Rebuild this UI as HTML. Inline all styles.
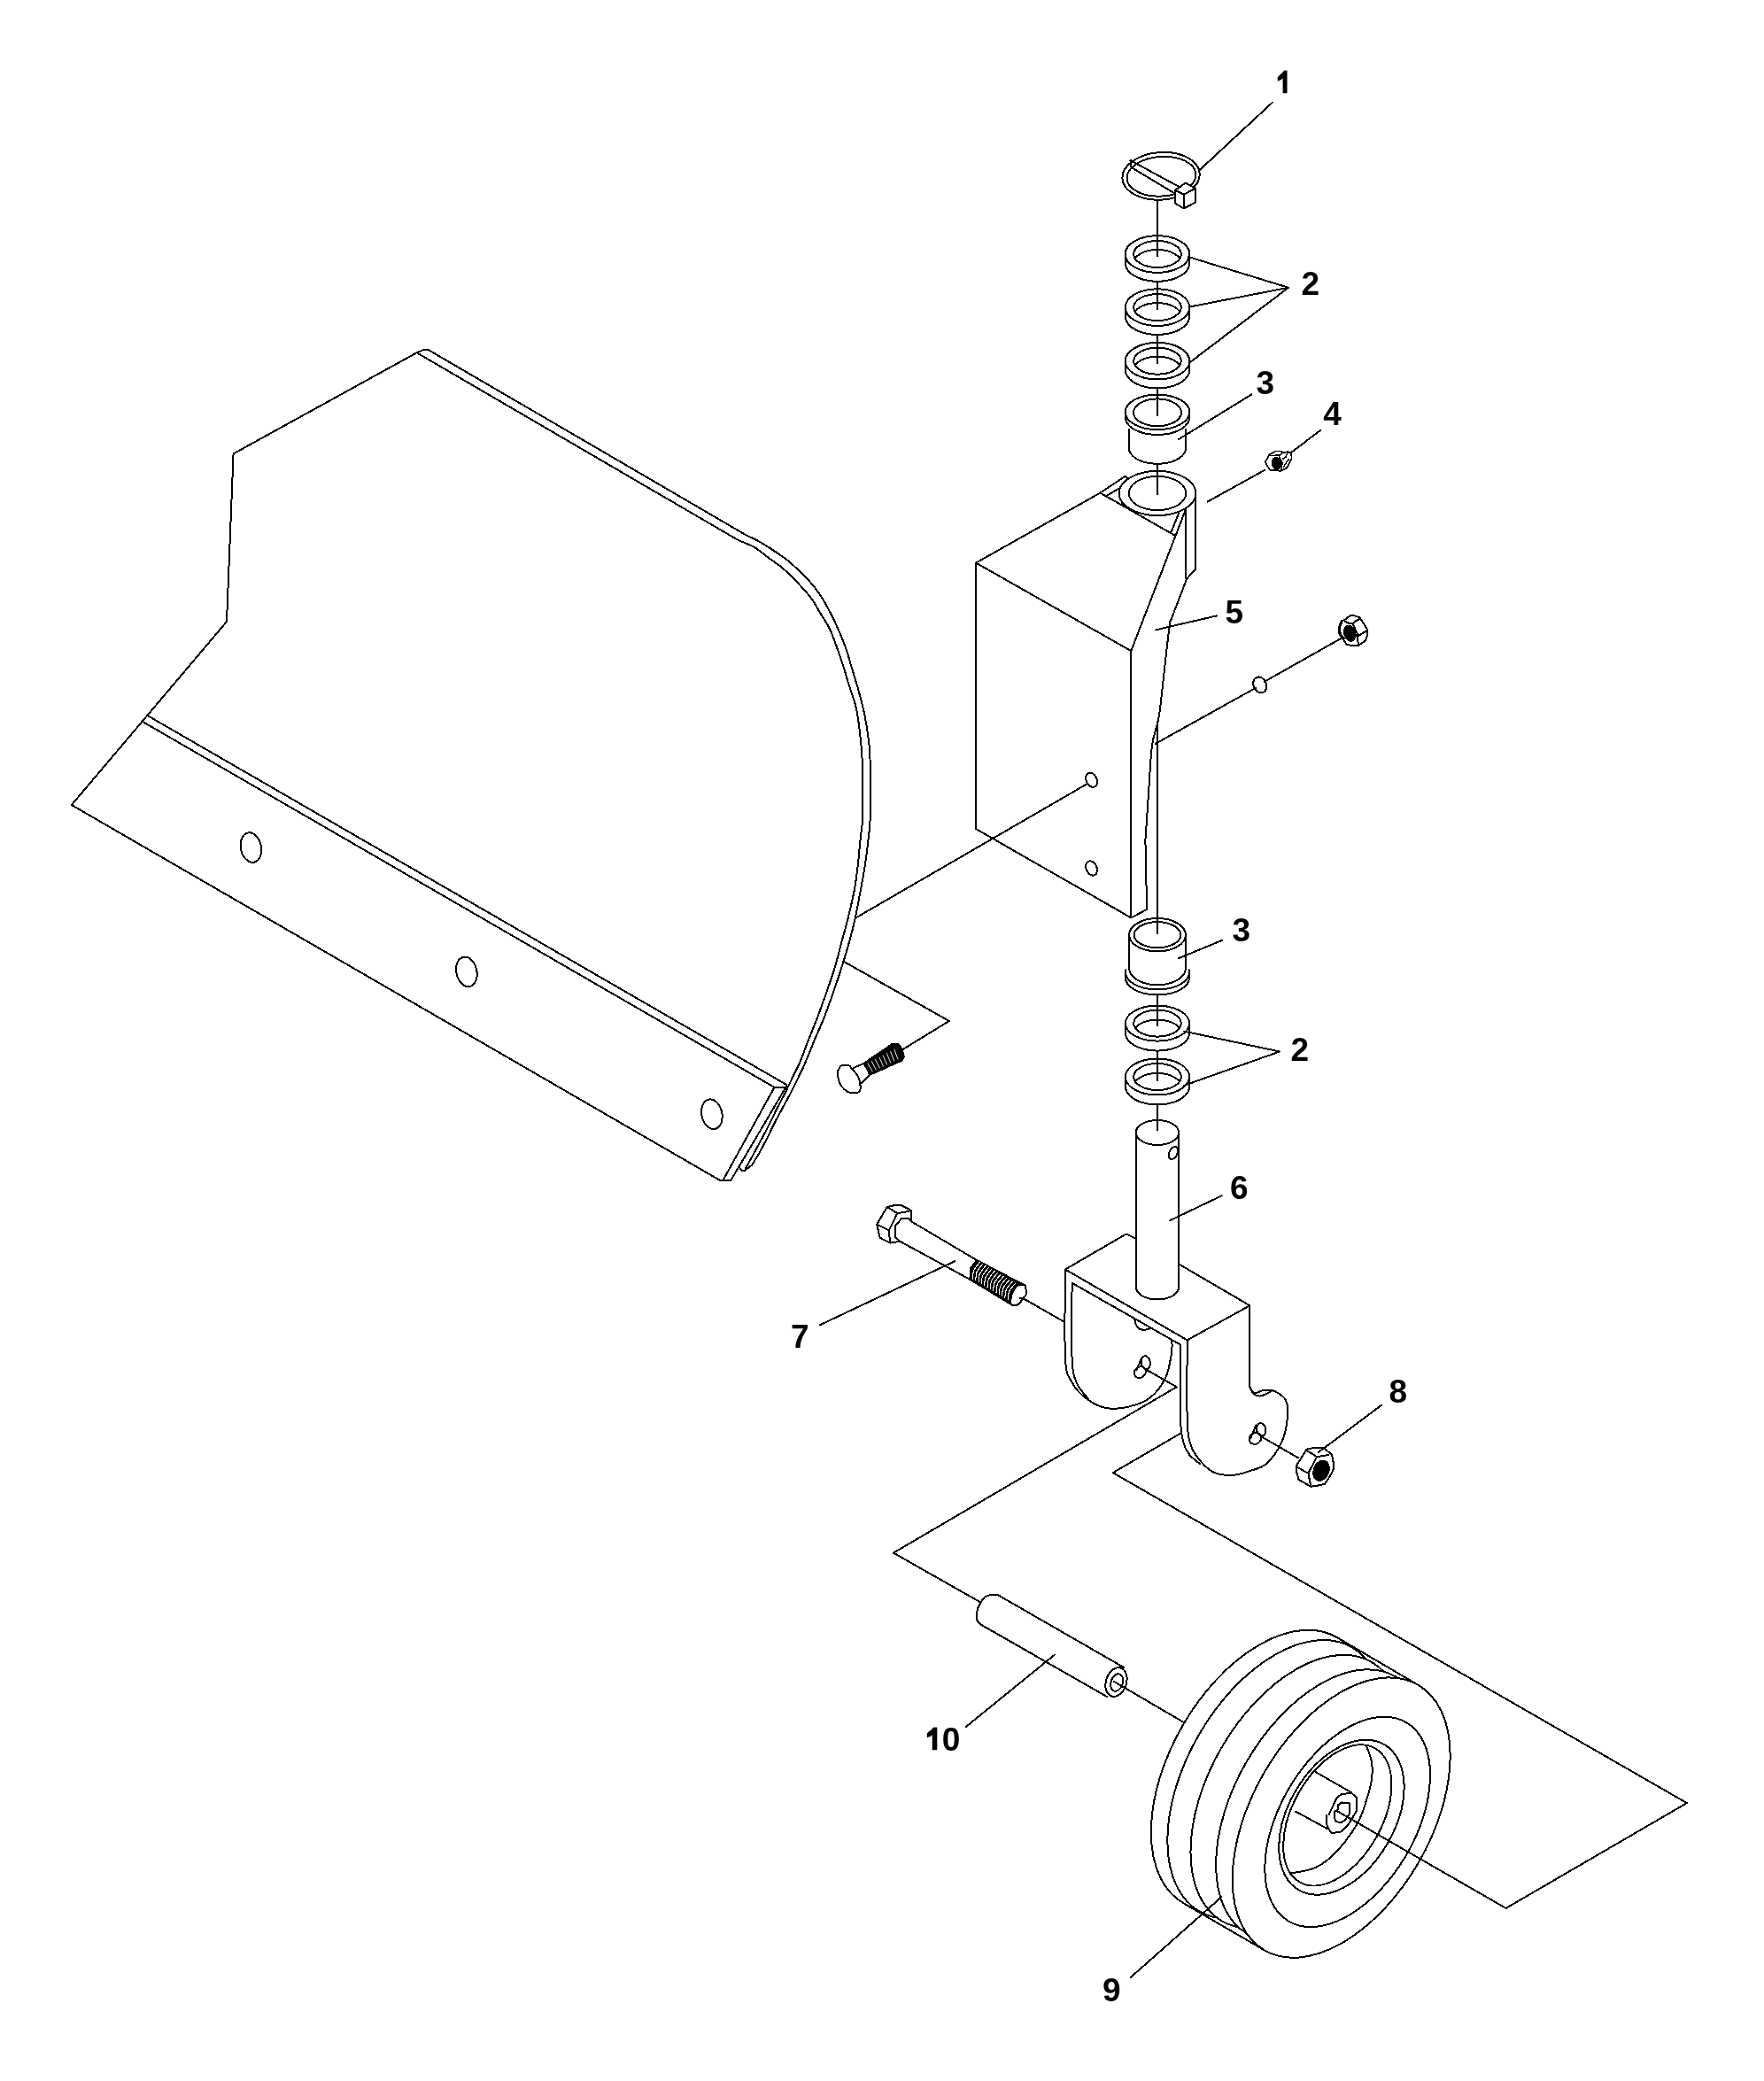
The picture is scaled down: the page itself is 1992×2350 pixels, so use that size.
<!DOCTYPE html>
<html><head><meta charset="utf-8"><style>
html,body{margin:0;padding:0;background:#fff;}
svg{display:block;will-change:transform;}
text{font-family:"Liberation Sans",sans-serif;font-weight:bold;fill:#000;stroke:none;text-anchor:middle;}
</style></head><body>
<svg width="1992" height="2350" viewBox="0 0 1992 2350">
<rect width="1992" height="2350" fill="#fff"/>
<g fill="none" stroke="#000" stroke-width="2" stroke-linejoin="round" stroke-linecap="round" shape-rendering="crispEdges">
<path d="M483.1 394.7 L479.1 394.7 L470.6 398.3 L263.6 512.4 L256 702 L80.8 909 L814 1333.5 L825.4 1332.8"/>
<path d="M483.1 394.7 L842 604"/>
<path d="M842 604 C844.8 605.4 852.8 608.9 859 612.5 C865.2 616.1 873.7 621.7 879.4 625.6 C885.1 629.5 887.3 630.8 893 635.8 C898.7 640.8 907.9 649.6 913.4 655.6 C918.9 661.6 922.3 666.3 925.9 671.5 C929.5 676.7 931.9 681.2 934.9 686.8 C937.9 692.4 940.6 697.3 944 704.9 C947.4 712.5 952.5 724.4 955.3 732.1 C958.1 739.9 959.1 745.1 961 751.4 C962.9 757.7 964.5 762.4 966.7 770 C968.9 777.6 972.1 788.7 974.1 797 C976.1 805.3 977.3 811.6 978.6 819.7 C979.9 827.8 981.3 837.3 982 845.8 C982.7 854.3 982.5 857.5 982.6 870.7 C982.7 883.9 983 912.1 982.6 925 C982.2 937.9 981.5 938.8 980.5 948 C979.5 957.2 977.9 970.4 976.4 980 C974.9 989.6 973.6 996 971.8 1005.5 C970 1015 967.7 1027.8 965.7 1037.1 C963.7 1046.4 961.8 1053.4 959.6 1061.6 C957.4 1069.8 954.3 1079.7 952.4 1086.1 C950.5 1092.5 950.2 1093.4 948 1100 C945.8 1106.6 942.3 1117 939.3 1125.5 C936.3 1134 933.3 1142.5 929.9 1151 C926.5 1159.5 922.3 1168.3 918.9 1176.5 C915.5 1184.7 912.3 1193.2 909.4 1200 C906.5 1206.8 904.2 1211.2 901.4 1217 C898.6 1222.8 895.2 1229.6 892.4 1235.1 C889.6 1240.6 887.2 1244.6 884.4 1249.9 C881.6 1255.2 878.7 1260.4 875.4 1266.9 C872.1 1273.4 867.4 1283.2 864.4 1289 C861.4 1294.8 860 1297.5 857.6 1301.7 C855.2 1305.9 851.6 1311.8 849.9 1314.4 C848.2 1317 848.2 1316.4 847.2 1317.2 C846.2 1318 844.8 1319 844 1319.4 C843.2 1319.9 843.2 1319.4 842.7 1319.9 C842.2 1320.4 841.9 1321.8 841.3 1322.2 C840.7 1322.6 839.8 1322.4 839 1322.2 C838.2 1322 837.5 1321.6 836.8 1320.8 C836 1320 834.9 1318.1 834.5 1317.6"/>
<path d="M470.6 398.3 L834 610.2"/>
<path d="M834 610.2 C837 611.5 846.5 614.9 852.2 618.2 C857.9 621.5 862.5 626 868 630.1 C873.5 634.2 879 637.3 885 642.6 C891 647.9 899 656.1 904.3 661.8 C909.6 667.5 913 671.3 916.8 676.6 C920.6 681.9 923.6 687.9 927 693.6 C930.4 699.3 933.8 703.2 937.2 710.6 C940.6 718 944.8 730.4 947.4 737.8 C950 745.2 951.4 749.4 953.1 754.8 C954.8 760.2 955.4 763 957.6 770 C959.8 777 964.1 788.7 966.2 797 C968.3 805.3 969 811.2 970.1 819.7 C971.2 828.2 972.3 839.5 973 848 C973.7 856.5 973.9 858.4 974.1 870.7 C974.3 883 974.5 909.7 974.1 922 C973.8 934.3 973 934.7 972 944.4 C971 954.1 969.6 969.8 968.4 980 C967.2 990.2 966.5 996 964.7 1005.5 C962.9 1015 960 1027.4 957.6 1037.1 C955.2 1046.8 952.6 1055.4 950.4 1063.7 C948.2 1072 946 1081 944.3 1087.1 C942.6 1093.1 942.5 1093.6 940.4 1100 C938.3 1106.4 934.6 1117 931.6 1125.5 C928.6 1134 925.5 1142.5 922.3 1151 C919 1159.5 915.3 1168.3 912.1 1176.5 C908.9 1184.7 906.2 1192.8 903.1 1200 C900 1207.2 896.2 1214.1 893.5 1219.8 C890.8 1225.5 889.5 1228.5 886.7 1234 C884 1239.5 880 1246.7 877 1252.7 C874 1258.7 872.5 1262.1 868.5 1270 C864.5 1277.9 857.2 1291.7 852.7 1300 C848.2 1308.3 843.5 1316.7 841.7 1320"/>
<path d="M166.5 808 L888.4 1225.1 L887.4 1227.9 L874.5 1227.9 L160.8 814.8"/>
<path d="M874.5 1227.9 L816.3 1333.1"/>
<path d="M887.4 1227.9 L825.4 1332.8"/>
<ellipse cx="283.4" cy="957.1" rx="11.5" ry="17" transform="rotate(-12 283.4 957.1)"/>
<ellipse cx="526.9" cy="1097.4" rx="11.5" ry="17" transform="rotate(-12 526.9 1097.4)"/>
<ellipse cx="803.9" cy="1258.2" rx="11.5" ry="17" transform="rotate(-12 803.9 1258.2)"/>
<path d="M966.2 1036.6 L1228 885"/>
<path d="M952.4 1085.6 L1071.8 1153 L1018.8 1185.5"/>
<path d="M950.3 1203.3 C952.1 1202.7 956.4 1202.7 958.4 1203.3 C960.4 1203.9 960.4 1205 962.2 1207.1 C964 1209.1 967.5 1212.9 969 1215.6 C970.5 1218.3 970.8 1220.9 971.2 1223.3 C971.6 1225.7 972 1228.4 971.6 1230.1 C971.2 1231.8 970.3 1232.8 969 1233.5 C967.7 1234.2 965.9 1234.5 963.9 1234.4 C961.9 1234.3 959.4 1234 957.1 1232.7 C954.8 1231.4 952 1229 950.3 1226.7 C948.6 1224.4 947.6 1221.7 946.9 1219 C946.2 1216.3 946 1212.5 946.1 1210.5 C946.2 1208.5 946.7 1208.3 947.4 1207.1 C948.1 1205.9 948.5 1203.9 950.3 1203.3Z"/>
<path d="M963.1 1206.3 L975.2 1201"/>
<path d="M972.4 1223.3 L981.9 1214"/>
<path d="M975.2 1201 L1007.3 1179.1 L1014 1179.1 L1016.8 1181.5 L1018.8 1185.1 L1020.8 1193 L1018.8 1197.4 L981.9 1214 L979.9 1208.1Z" fill="#000"/>
<path d="M980.1 1200.9 L985.1 1210" stroke-width="0.9" stroke="#fff"/>
<path d="M984.4 1198.6 L989.2 1208" stroke-width="0.9" stroke="#fff"/>
<path d="M988.6 1196.4 L993.3 1206" stroke-width="0.9" stroke="#fff"/>
<path d="M992.9 1194.1 L997.4 1204" stroke-width="0.9" stroke="#fff"/>
<path d="M997.1 1191.9 L1001.6 1202" stroke-width="0.9" stroke="#fff"/>
<path d="M1001.4 1189.6 L1005.7 1200" stroke-width="0.9" stroke="#fff"/>
<path d="M1005.6 1187.4 L1009.8 1198" stroke-width="0.9" stroke="#fff"/>
<path d="M1009.9 1185.1 L1013.9 1196" stroke-width="0.9" stroke="#fff"/>
<path d="M1270.5 537.9 L1242.4 556.6 L1102.1 635.6 L1102.1 936.1 L1277.3 1036.4 L1295.1 1027"/>
<path d="M1102.1 635.6 L1277.3 735.1"/>
<path d="M1277.3 735.1 L1277.3 1036.4"/>
<path d="M1277.3 735.1 L1339.3 574.4"/>
<path d="M1242.4 556.6 L1327.4 605"/>
<path d="M1250.9 559.1 L1265.4 550.6 L1267.1 569.3"/>
<path d="M1270.5 537.9 L1273.9 540.4"/>
<path d="M1322.3 601.6 L1331.7 577.8"/>
<ellipse cx="1307" cy="557" rx="43.4" ry="25.1" fill="#fff"/>
<ellipse cx="1307" cy="557" rx="32.3" ry="19.1"/>
<path d="M1339.3 574.4 L1339.3 653.5"/>
<path d="M1350.4 554 C1350.4 568.7 1350.4 627.7 1350.4 642.4"/>
<path d="M1350.4 554 L1350.4 642.4 L1340.2 653.5 L1322.3 700.3"/>
<path d="M1322.3 700.3 C1322 701.4 1321.9 697.4 1320.6 707 C1319.3 716.6 1316.7 741.1 1314.7 758.1 C1312.7 775.1 1311 795.3 1308.7 809.1 C1306.4 822.9 1302.9 828.1 1301.1 840.8 C1299.3 853.4 1298.8 869.1 1297.7 885 C1296.6 900.9 1295 925.5 1294.3 936 C1293.6 946.5 1293.6 946 1293.4 948"/>
<path d="M1293.4 948 L1295.1 1027"/>
<ellipse cx="1232.6" cy="880.8" rx="6" ry="8.5" transform="rotate(-25 1232.6 880.8)"/>
<ellipse cx="1232.6" cy="980.5" rx="6" ry="8.5" transform="rotate(-25 1232.6 980.5)"/>
<path d="M1307.1 225.6 L1307.1 289"/>
<path d="M1307.1 318 L1307.1 349.6"/>
<path d="M1307.1 377.4 L1307.1 409.8"/>
<path d="M1307.1 438.5 L1307.1 469.3"/>
<path d="M1307.1 523.8 L1307.1 558.6"/>
<path d="M1307.1 815 L1307.1 1054.2"/>
<path d="M1307.1 1123.7 L1307.1 1157.8"/>
<path d="M1307.1 1187.5 L1307.1 1219.8"/>
<path d="M1307.1 1247 L1307.1 1276"/>
<ellipse cx="1311.1" cy="198.8" rx="43.7" ry="26.8" transform="rotate(-4 1311.1 198.8)" fill="#fff"/>
<ellipse cx="1311.5" cy="199.2" rx="39" ry="22.3" transform="rotate(-4 1311.5 199.2)"/>
<path d="M1276.4 181 L1331 210.7"/>
<path d="M1277.4 188.9 L1327 218.7"/>
<path d="M1276.4 181 L1277.4 188.9"/>
<path d="M1327 214.7 L1338.9 206.7 L1349.8 212.7 L1349.8 228.6 L1336.9 235.5 L1327 229.6 L1327 214.7" fill="#fff"/>
<path d="M1327 214.7 L1336.9 219.6 L1349.8 212.7"/>
<path d="M1336.9 219.6 L1336.9 235.5"/>
<ellipse cx="1307" cy="287" rx="36.3" ry="20.8"/>
<path d="M1343.3 297 L1343 299.7 L1342.1 302.4 L1340.5 305 L1338.4 307.4 L1335.8 309.7 L1332.7 311.7 L1329.1 313.5 L1325.2 315 L1320.9 316.2 L1316.4 317.1 L1311.7 317.6 L1307 317.8 L1302.3 317.6 L1297.6 317.1 L1293.1 316.2 L1288.8 315 L1284.9 313.5 L1281.3 311.7 L1278.2 309.7 L1275.6 307.4 L1273.5 305 L1271.9 302.4 L1271 299.7 L1270.7 297"/>
<path d="M1270.7 287 L1270.7 297"/>
<path d="M1343.3 287 L1343.3 297"/>
<ellipse cx="1307" cy="287" rx="26.8" ry="15"/>
<path d="M1281.7 292 L1282.8 290.6 L1284.1 289.2 L1285.6 288 L1287.4 286.8 L1289.4 285.7 L1291.5 284.8 L1293.8 283.9 L1296.3 283.2 L1298.9 282.7 L1301.5 282.3 L1304.3 282.1 L1307 282 L1309.7 282.1 L1312.5 282.3 L1315.1 282.7 L1317.7 283.2 L1320.2 283.9 L1322.5 284.8 L1324.6 285.7 L1326.6 286.8 L1328.4 288 L1329.9 289.2 L1331.2 290.6 L1332.3 292"/>
<ellipse cx="1307" cy="347.1" rx="36.3" ry="20.8"/>
<path d="M1343.3 357.1 L1343 359.8 L1342.1 362.5 L1340.5 365.1 L1338.4 367.5 L1335.8 369.8 L1332.7 371.8 L1329.1 373.6 L1325.2 375.1 L1320.9 376.3 L1316.4 377.2 L1311.7 377.7 L1307 377.9 L1302.3 377.7 L1297.6 377.2 L1293.1 376.3 L1288.8 375.1 L1284.9 373.6 L1281.3 371.8 L1278.2 369.8 L1275.6 367.5 L1273.5 365.1 L1271.9 362.5 L1271 359.8 L1270.7 357.1"/>
<path d="M1270.7 347.1 L1270.7 357.1"/>
<path d="M1343.3 347.1 L1343.3 357.1"/>
<ellipse cx="1307" cy="347.1" rx="26.8" ry="15"/>
<path d="M1281.7 352.1 L1282.8 350.7 L1284.1 349.3 L1285.6 348.1 L1287.4 346.9 L1289.4 345.8 L1291.5 344.9 L1293.8 344 L1296.3 343.3 L1298.9 342.8 L1301.5 342.4 L1304.3 342.2 L1307 342.1 L1309.7 342.2 L1312.5 342.4 L1315.1 342.8 L1317.7 343.3 L1320.2 344 L1322.5 344.9 L1324.6 345.8 L1326.6 346.9 L1328.4 348.1 L1329.9 349.3 L1331.2 350.7 L1332.3 352.1"/>
<ellipse cx="1307" cy="407.7" rx="36.3" ry="20.8"/>
<path d="M1343.3 417.7 L1343 420.4 L1342.1 423.1 L1340.5 425.7 L1338.4 428.1 L1335.8 430.4 L1332.7 432.4 L1329.1 434.2 L1325.2 435.7 L1320.9 436.9 L1316.4 437.8 L1311.7 438.3 L1307 438.5 L1302.3 438.3 L1297.6 437.8 L1293.1 436.9 L1288.8 435.7 L1284.9 434.2 L1281.3 432.4 L1278.2 430.4 L1275.6 428.1 L1273.5 425.7 L1271.9 423.1 L1271 420.4 L1270.7 417.7"/>
<path d="M1270.7 407.7 L1270.7 417.7"/>
<path d="M1343.3 407.7 L1343.3 417.7"/>
<ellipse cx="1307" cy="407.7" rx="26.8" ry="15"/>
<path d="M1281.7 412.7 L1282.8 411.3 L1284.1 409.9 L1285.6 408.7 L1287.4 407.5 L1289.4 406.4 L1291.5 405.5 L1293.8 404.6 L1296.3 403.9 L1298.9 403.4 L1301.5 403 L1304.3 402.8 L1307 402.7 L1309.7 402.8 L1312.5 403 L1315.1 403.4 L1317.7 403.9 L1320.2 404.6 L1322.5 405.5 L1324.6 406.4 L1326.6 407.5 L1328.4 408.7 L1329.9 409.9 L1331.2 411.3 L1332.3 412.7"/>
<ellipse cx="1307" cy="1155.6" rx="36.1" ry="20"/>
<path d="M1343.1 1166.6 L1342.8 1169.2 L1341.9 1171.8 L1340.4 1174.3 L1338.3 1176.6 L1335.6 1178.8 L1332.5 1180.7 L1329 1182.5 L1325 1183.9 L1320.8 1185.1 L1316.3 1185.9 L1311.7 1186.4 L1307 1186.6 L1302.3 1186.4 L1297.7 1185.9 L1293.2 1185.1 L1289 1183.9 L1285 1182.5 L1281.5 1180.7 L1278.4 1178.8 L1275.7 1176.6 L1273.6 1174.3 L1272.1 1171.8 L1271.2 1169.2 L1270.9 1166.6"/>
<path d="M1270.9 1155.6 L1270.9 1166.6"/>
<path d="M1343.1 1155.6 L1343.1 1166.6"/>
<ellipse cx="1307" cy="1155.6" rx="26.8" ry="15"/>
<path d="M1282.1 1161.1 L1283.2 1159.7 L1284.5 1158.4 L1286.1 1157.2 L1287.8 1156.1 L1289.8 1155.1 L1291.9 1154.2 L1294.2 1153.4 L1296.6 1152.8 L1299.1 1152.3 L1301.7 1151.9 L1304.3 1151.7 L1307 1151.6 L1309.7 1151.7 L1312.3 1151.9 L1314.9 1152.3 L1317.4 1152.8 L1319.8 1153.4 L1322.1 1154.2 L1324.2 1155.1 L1326.2 1156.1 L1327.9 1157.2 L1329.5 1158.4 L1330.8 1159.7 L1331.9 1161.1"/>
<ellipse cx="1307" cy="1216" rx="36.1" ry="20.5"/>
<path d="M1343.1 1227 L1342.8 1229.7 L1341.9 1232.3 L1340.4 1234.8 L1338.3 1237.2 L1335.6 1239.5 L1332.5 1241.5 L1329 1243.3 L1325 1244.8 L1320.8 1245.9 L1316.3 1246.8 L1311.7 1247.3 L1307 1247.5 L1302.3 1247.3 L1297.7 1246.8 L1293.2 1245.9 L1289 1244.8 L1285 1243.3 L1281.5 1241.5 L1278.4 1239.5 L1275.7 1237.2 L1273.6 1234.8 L1272.1 1232.3 L1271.2 1229.7 L1270.9 1227"/>
<path d="M1270.9 1216 L1270.9 1227"/>
<path d="M1343.1 1216 L1343.1 1227"/>
<ellipse cx="1307" cy="1216" rx="26.8" ry="15"/>
<path d="M1282.1 1221.5 L1283.2 1220.1 L1284.5 1218.8 L1286.1 1217.6 L1287.8 1216.5 L1289.8 1215.5 L1291.9 1214.6 L1294.2 1213.8 L1296.6 1213.2 L1299.1 1212.7 L1301.7 1212.3 L1304.3 1212.1 L1307 1212 L1309.7 1212.1 L1312.3 1212.3 L1314.9 1212.7 L1317.4 1213.2 L1319.8 1213.8 L1322.1 1214.6 L1324.2 1215.5 L1326.2 1216.5 L1327.9 1217.6 L1329.5 1218.8 L1330.8 1220.1 L1331.9 1221.5"/>
<ellipse cx="1307" cy="465.4" rx="36.3" ry="19.8"/>
<path d="M1343.3 471.2 L1343 473.8 L1342.1 476.3 L1340.5 478.8 L1338.4 481.1 L1335.8 483.3 L1332.7 485.2 L1329.1 486.9 L1325.2 488.3 L1320.9 489.5 L1316.4 490.3 L1311.7 490.8 L1307 491 L1302.3 490.8 L1297.6 490.3 L1293.1 489.5 L1288.8 488.3 L1284.9 486.9 L1281.3 485.2 L1278.2 483.3 L1275.6 481.1 L1273.5 478.8 L1271.9 476.3 L1271 473.8 L1270.7 471.2"/>
<path d="M1270.7 465.4 L1270.7 471.2"/>
<path d="M1343.3 465.4 L1343.3 471.2"/>
<ellipse cx="1307" cy="465.8" rx="27" ry="15.4"/>
<path d="M1274.8 485 L1274.8 505.8"/>
<path d="M1339.2 485 L1339.2 505.8"/>
<path d="M1339.2 505.8 L1338.9 508.1 L1338.1 510.5 L1336.7 512.7 L1334.9 514.8 L1332.5 516.8 L1329.8 518.5 L1326.6 520.1 L1323.1 521.4 L1319.3 522.4 L1315.3 523.2 L1311.2 523.6 L1307 523.8 L1302.8 523.6 L1298.7 523.2 L1294.7 522.4 L1290.9 521.4 L1287.4 520.1 L1284.2 518.5 L1281.5 516.8 L1279.1 514.8 L1277.3 512.7 L1275.9 510.5 L1275.1 508.1 L1274.8 505.8"/>
<ellipse cx="1307" cy="1055.7" rx="31.9" ry="18.7"/>
<ellipse cx="1307" cy="1055.7" rx="26.4" ry="14.5"/>
<path d="M1275.1 1055.7 L1275.1 1093.5"/>
<path d="M1338.9 1055.7 L1338.9 1093.5"/>
<path d="M1338.9 1093.5 L1338.6 1095.9 L1337.8 1098.3 L1336.5 1100.7 L1334.6 1102.8 L1332.3 1104.9 L1329.6 1106.7 L1326.4 1108.3 L1323 1109.7 L1319.2 1110.8 L1315.3 1111.6 L1311.2 1112 L1307 1112.2 L1302.8 1112 L1298.7 1111.6 L1294.8 1110.8 L1291 1109.7 L1287.6 1108.3 L1284.4 1106.7 L1281.7 1104.9 L1279.4 1102.8 L1277.5 1100.7 L1276.2 1098.3 L1275.4 1095.9 L1275.1 1093.5"/>
<path d="M1342.7 1095.3 L1343.1 1098.1 L1342.7 1100.8 L1341.6 1103.5 L1339.8 1106.1 L1337.3 1108.6 L1334.2 1110.8 L1330.6 1112.8 L1326.5 1114.4 L1322 1115.7 L1317.2 1116.7 L1312.1 1117.3 L1307 1117.5 L1301.9 1117.3 L1296.8 1116.7 L1292 1115.7 L1287.5 1114.4 L1283.4 1112.8 L1279.8 1110.8 L1276.7 1108.6 L1274.2 1106.1 L1272.4 1103.5 L1271.3 1100.8 L1270.9 1098.1 L1271.3 1095.3"/>
<path d="M1343.1 1104 L1342.8 1106.5 L1341.9 1109 L1340.4 1111.5 L1338.3 1113.8 L1335.6 1115.9 L1332.5 1117.8 L1329 1119.5 L1325 1120.9 L1320.8 1122 L1316.3 1122.8 L1311.7 1123.3 L1307 1123.5 L1302.3 1123.3 L1297.7 1122.8 L1293.2 1122 L1289 1120.9 L1285 1119.5 L1281.5 1117.8 L1278.4 1115.9 L1275.7 1113.8 L1273.6 1111.5 L1272.1 1109 L1271.2 1106.5 L1270.9 1104"/>
<path d="M1270.9 1096 L1270.9 1104"/>
<path d="M1343.1 1096 L1343.1 1104"/>
<ellipse cx="1307" cy="1279" rx="24.2" ry="14"/>
<path d="M1282.8 1279 L1282.9 1453.5"/>
<path d="M1331.2 1279 L1331 1453.5"/>
<path d="M1331.1 1453.5 L1330.9 1455.3 L1330.3 1457.1 L1329.3 1458.9 L1327.9 1460.5 L1326.1 1462 L1324 1463.4 L1321.7 1464.6 L1319 1465.6 L1316.2 1466.4 L1313.2 1467 L1310.1 1467.4 L1307 1467.5 L1303.9 1467.4 L1300.8 1467 L1297.8 1466.4 L1295 1465.6 L1292.3 1464.6 L1290 1463.4 L1287.9 1462 L1286.1 1460.5 L1284.7 1458.9 L1283.7 1457.1 L1283.1 1455.3 L1282.9 1453.5"/>
<ellipse cx="1325" cy="1302" rx="4.5" ry="7.5" transform="rotate(25 1325 1302)"/>
<path d="M1429.1 521.1 L1433.6 513.4 L1440.4 509.5 L1445.5 509.5 L1448.6 510.9 L1454.6 510.3 L1458.3 512 L1458.5 517.7 L1454 527.6 L1446.9 531.8 L1440.4 531.3 L1434.2 530.7 L1429.9 524.5 L1429.1 521.1" stroke-width="1.8" fill="#fff"/>
<ellipse cx="1441.5" cy="523.3" rx="4.8" ry="6.6" transform="rotate(-15 1441.5 523.3)" fill="#000"/>
<path d="M1434.5 514.5 L1445 514 L1448.6 510.9" stroke-width="1.5"/>
<path d="M1444 514 L1448 523 L1447 531" stroke-width="1.5"/>
<path d="M1449 518 L1452 516 L1454.6 510.3" stroke-width="1.5"/>
<path d="M1449.5 527 L1455 519" stroke-width="1.5"/>
<path d="M1524.9 695.3 L1529.6 695.3 L1535.5 697.5 L1540.2 704.3 L1544.3 711.5 L1544.3 716.2 L1542.1 723.4 L1533.1 729.3 L1526.2 729 L1520.6 727.7 L1517.5 723 L1512.5 716.2 L1511.5 710 L1514.7 701.5 L1518.7 699.7 L1524.9 695.3" fill="#fff"/>
<path d="M1518.7 701.8 L1523.1 703.7 L1527.4 704.3 L1531.2 701.2 L1535.5 699"/>
<path d="M1527.4 704.3 L1533.1 716.2 L1533.7 729.3"/>
<path d="M1533.7 718 L1542.1 713.1"/>
<path d="M1515.5 703 C1515 704.2 1513 707.8 1512.8 710 C1512.6 712.2 1513.5 714.6 1514.5 716.5 C1515.5 718.4 1517.8 720.7 1518.5 721.5" stroke-width="1.6"/>
<ellipse cx="1524.2" cy="715.2" rx="6" ry="8.8" transform="rotate(-20 1524.2 715.2)" fill="#000"/>
<path d="M1515.7 720.2 L1427.8 769.8"/>
<ellipse cx="1422.8" cy="773.4" rx="7.2" ry="9.2" transform="rotate(-25 1422.8 773.4)"/>
<path d="M1417.9 776.9 L1304.5 840"/>
<path d="M1282 1398.6 L1271.8 1393.5 L1203 1433.5 L1340.7 1513.4 L1411.3 1474.3 L1331.4 1427.6"/>
<path d="M1203 1433.5 C1203 1450.2 1201.7 1512.7 1203 1534 C1204.3 1555.3 1206.5 1553.5 1210.6 1561.2 C1214.7 1568.9 1221.1 1575.2 1227.6 1580 C1234.1 1584.8 1241.8 1588.7 1249.7 1590.1 C1257.6 1591.5 1267 1590.4 1275.2 1588.4 C1283.4 1586.4 1292.2 1583.6 1299 1578.2 C1305.8 1572.8 1312 1564.3 1316 1556.1 C1320 1547.9 1321.7 1536 1322.9 1528.9 C1324.1 1521.8 1323.3 1516 1323.4 1513.4"/>
<path d="M1210.6 1448.8 C1210.6 1463 1209.7 1515.1 1210.6 1534 C1211.5 1552.9 1212.9 1554.3 1216 1562 C1219.1 1569.7 1227.1 1577 1229.3 1580"/>
<path d="M1210.6 1448.8 L1333 1518.5 L1333 1602"/>
<path d="M1333 1518.5 C1333 1532.4 1332.4 1583.5 1333 1602 C1333.6 1620.5 1334.8 1622.5 1336.5 1629.3 C1338.2 1636.1 1340.2 1638.9 1343.3 1642.9 C1346.4 1646.9 1353.2 1651.4 1355.2 1653.1"/>
<path d="M1340.7 1513.4 C1340.7 1528.2 1340 1582.1 1340.7 1602 C1341.4 1621.9 1342.3 1624.5 1345 1632.7 C1347.7 1640.9 1352.4 1646.3 1356.9 1651.4 C1361.4 1656.5 1366.2 1660.9 1372.2 1663.3 C1378.2 1665.7 1386.4 1666.1 1392.6 1665.8 C1398.8 1665.5 1403.4 1663.7 1409.6 1661.6 C1415.8 1659.5 1423.8 1658.4 1430 1653 C1436.2 1647.6 1443 1637.8 1447 1629.3 C1451 1620.8 1453 1610 1453.8 1602 C1454.6 1594 1454.4 1586.7 1452.1 1581.6 C1449.8 1576.5 1444.2 1573.4 1440.2 1571.4 C1436.2 1569.4 1432.3 1569.4 1428.3 1569.7 C1424.3 1570 1419.2 1573.7 1416.4 1573.1 C1413.6 1572.5 1412.2 1567.4 1411.3 1566.3"/>
<path d="M1411.3 1566.3 L1411.3 1474.3"/>
<path d="M1412.1 1568 C1412.8 1569.1 1414.6 1573.4 1416.4 1574.8 C1418.2 1576.2 1420.9 1576.6 1423.2 1576.5 C1425.5 1576.4 1428 1574.8 1430 1574 C1432 1573.2 1434.2 1571.8 1435.1 1571.4"/>
<path d="M1281 1489 C1281.5 1490.5 1282.3 1495.8 1284 1498 C1285.7 1500.2 1288.5 1501.7 1291 1502 C1293.5 1502.3 1297.7 1500.3 1299 1500"/>
<ellipse cx="1293.8" cy="1538.7" rx="5" ry="7.6" transform="rotate(-10 1293.8 1538.7)"/>
<ellipse cx="1287.4" cy="1549.6" rx="7" ry="6" transform="rotate(-35 1287.4 1549.6)"/>
<path d="M1283.2 1547.5 L1289.3 1533.4"/>
<ellipse cx="1424.2" cy="1614.3" rx="5.2" ry="7.2" transform="rotate(-10 1424.2 1614.3)"/>
<ellipse cx="1417.5" cy="1624.4" rx="7.1" ry="6.2" transform="rotate(-35 1417.5 1624.4)"/>
<path d="M1412.5 1623.5 L1418.6 1609.1"/>
<path d="M1293.6 1546.3 L1328.8 1566.2 L1008.9 1753.6 L1107 1809.3"/>
<path d="M1426.1 1623.3 L1466 1646.3"/>
<path d="M1333.9 1618.2 L1256.8 1663.1 L1904.9 2036.1 L1700.6 2154.9"/>
<path d="M1029 1379.3 L1028.6 1366.7 L1017.4 1360.9 L1011.3 1360.9 L1001.8 1362.9 L990.2 1382.7 L993.6 1397.6 L1005.2 1403.7 L1016.1 1401.7"/>
<path d="M1001.8 1362.9 L1013.3 1370.1 L1023.9 1368.4 L1028.6 1366.7"/>
<path d="M1013.3 1370.1 L1003.8 1389.5 L1005.2 1403.7"/>
<path d="M990.2 1382.7 L1003.8 1389.5"/>
<path d="M1029 1379.3 L1025.6 1375.9 L1018.4 1375.9 L1011.3 1383.7 L1010.6 1396.9 L1015.4 1400.7"/>
<path d="M1029 1379.3 L1103.1 1423.1"/>
<path d="M1016.1 1401.7 L1095.4 1444.9"/>
<path d="M1103.1 1423.1 L1157.6 1451.7"/>
<path d="M1095.4 1444.9 L1141.7 1473"/>
<path d="M1103.1 1423.1 L1099.5 1427.7 L1095.9 1432.2 L1095.4 1444.9"/>
<path d="M1103.1 1423.1 L1157.6 1451.7 L1141.7 1473 L1095.4 1444.9 L1095.9 1432.2 L1099.5 1427.7Z" fill="#000"/>
<path d="M1106.2 1425.5 C1105.1 1427 1100.9 1431.7 1099.7 1434.8 C1098.4 1437.8 1098.7 1442.5 1098.5 1444" stroke-width="1.1" stroke="#fff"/>
<path d="M1109.6 1427.5 C1108.5 1429 1104.3 1433.6 1103 1436.7 C1101.7 1439.8 1102 1444.4 1101.8 1445.9" stroke-width="1.1" stroke="#fff"/>
<path d="M1113 1429.4 C1111.9 1431 1107.7 1435.6 1106.3 1438.6 C1105 1441.7 1105.3 1446.3 1105.1 1447.8" stroke-width="1.1" stroke="#fff"/>
<path d="M1116.4 1431.4 C1115.2 1432.9 1111 1437.5 1109.7 1440.6 C1108.4 1443.6 1108.6 1448.2 1108.4 1449.8" stroke-width="1.1" stroke="#fff"/>
<path d="M1119.7 1433.3 C1118.6 1434.9 1114.4 1439.5 1113 1442.5 C1111.7 1445.6 1111.9 1450.2 1111.7 1451.7" stroke-width="1.1" stroke="#fff"/>
<path d="M1123.1 1435.3 C1122 1436.8 1117.7 1441.4 1116.4 1444.5 C1115 1447.5 1115.3 1452.1 1115 1453.6" stroke-width="1.1" stroke="#fff"/>
<path d="M1126.5 1437.3 C1125.4 1438.8 1121.1 1443.4 1119.7 1446.4 C1118.4 1449.4 1118.6 1454 1118.3 1455.5" stroke-width="1.1" stroke="#fff"/>
<path d="M1129.9 1439.2 C1128.8 1440.8 1124.4 1445.3 1123.1 1448.3 C1121.7 1451.4 1121.9 1455.9 1121.7 1457.5" stroke-width="1.1" stroke="#fff"/>
<path d="M1133.3 1441.2 C1132.1 1442.7 1127.8 1447.3 1126.4 1450.3 C1125 1453.3 1125.2 1457.9 1125 1459.4" stroke-width="1.1" stroke="#fff"/>
<path d="M1136.7 1443.2 C1135.5 1444.7 1131.2 1449.2 1129.8 1452.2 C1128.4 1455.3 1128.5 1459.8 1128.3 1461.3" stroke-width="1.1" stroke="#fff"/>
<path d="M1140 1445.1 C1138.9 1446.6 1134.5 1451.2 1133.1 1454.2 C1131.7 1457.2 1131.8 1461.7 1131.6 1463.2" stroke-width="1.1" stroke="#fff"/>
<path d="M1143.4 1447.1 C1142.3 1448.6 1137.9 1453.1 1136.5 1456.1 C1135 1459.1 1135.1 1463.6 1134.9 1465.2" stroke-width="1.1" stroke="#fff"/>
<path d="M1146.8 1449 C1145.6 1450.5 1141.2 1455.1 1139.8 1458.1 C1138.4 1461.1 1138.5 1465.6 1138.2 1467.1" stroke-width="1.1" stroke="#fff"/>
<path d="M1150.2 1451 C1149 1452.5 1144.6 1457 1143.2 1460 C1141.7 1463 1141.8 1467.5 1141.5 1469" stroke-width="1.1" stroke="#fff"/>
<path d="M1148 1452 C1148.7 1451.9 1150.4 1451.3 1152 1451.3 C1153.6 1451.2 1156.5 1449.9 1157.6 1451.7 C1158.7 1453.5 1158.8 1459.6 1158.5 1462 C1158.2 1464.4 1156.8 1464.2 1155.5 1466 C1154.2 1467.8 1152.1 1471.2 1150.5 1472.5 C1148.9 1473.8 1147.5 1473.9 1146 1474 C1144.5 1474.1 1142.3 1475 1141.7 1473 C1141.1 1471 1141.5 1465.5 1142.5 1462 C1143.5 1458.5 1147.1 1453.7 1148 1452 C1148.9 1450.3 1147.3 1452.1 1148 1452Z" fill="#fff"/>
<path d="M1152.1 1465.8 L1155.5 1466"/>
<path d="M1155.5 1466.2 L1202.3 1493"/>
<path d="M1475.4 1636.6 L1485.6 1634.5 L1491.7 1634.9 L1495.1 1635.5 L1503.3 1642 L1504.3 1644 L1505.3 1648.8 L1506.4 1657.3 L1503.6 1664.1 L1495.8 1676 L1485.6 1678.1 L1480.5 1678.7 L1477.1 1677 L1466.6 1670.9 L1464.2 1662.4 L1463.5 1656.6 L1465.2 1653.2 L1473.4 1640 L1475.4 1636.6" fill="#fff"/>
<path d="M1476.1 1638.3 L1487 1645.1 L1500.2 1643"/>
<path d="M1487 1645.1 L1477.4 1663.8 L1480.2 1678.1"/>
<path d="M1464.2 1656.5 L1477.4 1663.8"/>
<ellipse cx="1492" cy="1660.7" rx="8.3" ry="11.5" transform="rotate(22 1492 1660.7)" fill="#000"/>
<path d="M1496.9 1664.4 L1496.5 1665.1 L1496.1 1665.7 L1495.7 1666.3 L1495.2 1666.9 L1494.7 1667.4 L1494.2 1667.8 L1493.7 1668.3 L1493.2 1668.6 L1492.7 1669 L1492.2 1669.3 L1491.7 1669.5 L1491.1 1669.6 L1490.6 1669.7 L1490.1 1669.8 L1489.6 1669.8 L1489.1 1669.7 L1488.6 1669.6 L1488.2 1669.4 L1487.8 1669.2 L1487.4 1668.9 L1487 1668.5 L1486.7 1668.1 L1486.4 1667.7 L1486.1 1667.2" stroke-width="1"/>
<path d="M1126.3 1800.8 L1269.1 1883"/>
<path d="M1107 1834.2 L1249.9 1915.9"/>
<path d="M1126.3 1800.8 C1125.3 1800.8 1122.9 1800.4 1120.6 1800.8 C1118.3 1801.2 1115 1801.4 1112.7 1803 C1110.4 1804.6 1108.5 1807.9 1107 1810.4 C1105.5 1813 1104.3 1815.3 1103.6 1818.3 C1102.9 1821.3 1102.4 1825.8 1103 1828.5 C1103.6 1831.2 1106.3 1833.2 1107 1834.2"/>
<ellipse cx="1260.5" cy="1899.5" rx="11.5" ry="16.8" transform="rotate(18 1260.5 1899.5)" fill="#fff"/>
<ellipse cx="1261.2" cy="1900" rx="6.6" ry="10" transform="rotate(18 1261.2 1900)"/>
<path d="M1257.9 1898.8 L1337.1 1945.2"/>
<path d="M1509.7 1849 L1601.2 1902.7 L1428.2 2202.5 L1336.3 2149.2Z" fill="#fff" stroke="none"/>
<ellipse cx="1423" cy="1999.1" rx="173.3" ry="101" transform="rotate(-60 1423 1999.1)" fill="#fff"/>
<ellipse cx="1440.7" cy="2009.4" rx="172.2" ry="100.4" transform="rotate(-60 1440.7 2009.4)" fill="#fff"/>
<ellipse cx="1464.5" cy="2023.2" rx="168.9" ry="98.5" transform="rotate(-60 1464.5 2023.2)" fill="#fff"/>
<ellipse cx="1492.2" cy="2038.5" rx="167.6" ry="97.7" transform="rotate(-60 1492.2 2038.5)" fill="#fff"/>
<ellipse cx="1514.7" cy="2052.6" rx="173.1" ry="100.9" transform="rotate(-60 1514.7 2052.6)" fill="#fff"/>
<path d="M1509.7 1849 L1601.2 1902.7"/>
<path d="M1336.3 2149.2 L1428.2 2202.5"/>
<ellipse cx="1521.7" cy="2057.4" rx="130.4" ry="76.2" transform="rotate(-59.3 1521.7 2057.4)"/>
<ellipse cx="1514.9" cy="2052.2" rx="95.3" ry="59.8" transform="rotate(-59.4 1514.9 2052.2)"/>
<ellipse cx="1510.3" cy="2049.9" rx="86.7" ry="50.5" transform="rotate(-60.7 1510.3 2049.9)"/>
<path d="M1543.5 1972.7 C1544.4 1975.6 1548.1 1983.8 1549 1990 C1549.9 1996.2 1549.9 2002.8 1548.9 2010 C1547.9 2017.2 1545.7 2024.7 1543 2033 C1540.3 2041.3 1538.3 2049.9 1532.6 2059.6 C1526.9 2069.3 1516.8 2083.1 1509 2091.3 C1501.2 2099.5 1494.2 2104.9 1485.5 2109 C1476.8 2113.1 1461.5 2114.5 1456.7 2115.6"/>
<path d="M1485.8 2001.2 L1526.1 2024.2"/>
<path d="M1462.9 2045.6 L1499.6 2065.5"/>
<path d="M1500.6 2049.2 L1509.8 2029.8 L1514.9 2026.2 L1526.1 2024.7 L1532.2 2030.3 L1532.2 2044.6 L1522 2061.4 L1513.9 2068.6 L1503.7 2070.1 L1498.6 2062.4 L1497.6 2049.7" fill="#fff"/>
<path d="M1510.8 2038.5 L1515.4 2035.4 L1524.1 2036.4 L1524.1 2048.2 L1519 2055.3 L1513.9 2058.4 L1507.8 2056.3 L1506.7 2046.1 L1510.8 2043.1 L1510.8 2038.5"/>
<path d="M1509.8 2045.1 L1700.6 2154.9"/>
<path d="M1437.1 115.5 L1353.8 192.9"/>
<path d="M1455 324.8 L1341.9 290"/>
<path d="M1455 324.8 L1342.9 346.6"/>
<path d="M1455 324.8 L1342.9 409.8"/>
<path d="M1413.3 445.5 L1331 496.1"/>
<path d="M1491.3 485.8 L1458 511"/>
<path d="M1428.2 530.8 L1363.7 566.5"/>
<path d="M1373.9 695.4 L1305.3 711.3"/>
<path d="M1380.5 1061.7 L1331.2 1082.1"/>
<path d="M1445.1 1187.5 L1337.1 1164.6"/>
<path d="M1445.1 1187.5 L1337.1 1225.8"/>
<path d="M1379.8 1350.2 L1321.2 1378.2"/>
<path d="M926.3 1496.1 L1078.3 1424.2"/>
<path d="M1560.2 1586.7 L1488.8 1640"/>
<path d="M1190.9 1868.7 L1090.5 1950.3"/>
<path d="M1379.4 2142.2 L1276.8 2233"/>
<path d="M1450.2 79.9 L1453.4 79.9 L1453.4 104.9 L1448.8 104.9 L1448.8 88.2 L1446.7 89.8 L1443.1 91.2 L1443.1 87.3Z" stroke-width="0.6" fill="#000"/>
<path d="M1054.2 1950.9 L1058 1950.9 L1058 1975.9 L1053 1975.9 L1053 1958.7 L1050.5 1960.7 L1047.2 1961.8 L1047.2 1957.3 L1049.5 1955.5Z" stroke-width="0.6" fill="#000"/>
<text x="1479.8" y="332.5" font-size="37">2</text>
<text x="1428.8" y="445.3" font-size="37">3</text>
<text x="1504.5" y="480" font-size="37">4</text>
<text x="1393.8" y="704" font-size="37">5</text>
<text x="1401.8" y="1063.3" font-size="37">3</text>
<text x="1467.7" y="1197.7" font-size="37">2</text>
<text x="1399.4" y="1353.5" font-size="37">6</text>
<text x="903.3" y="1521.9" font-size="37">7</text>
<text x="1578.7" y="1583.5" font-size="37">8</text>
<text x="1074" y="1976.8" font-size="37">0</text>
<text x="1255.4" y="2259.8" font-size="37">9</text>
</g></svg></body></html>
